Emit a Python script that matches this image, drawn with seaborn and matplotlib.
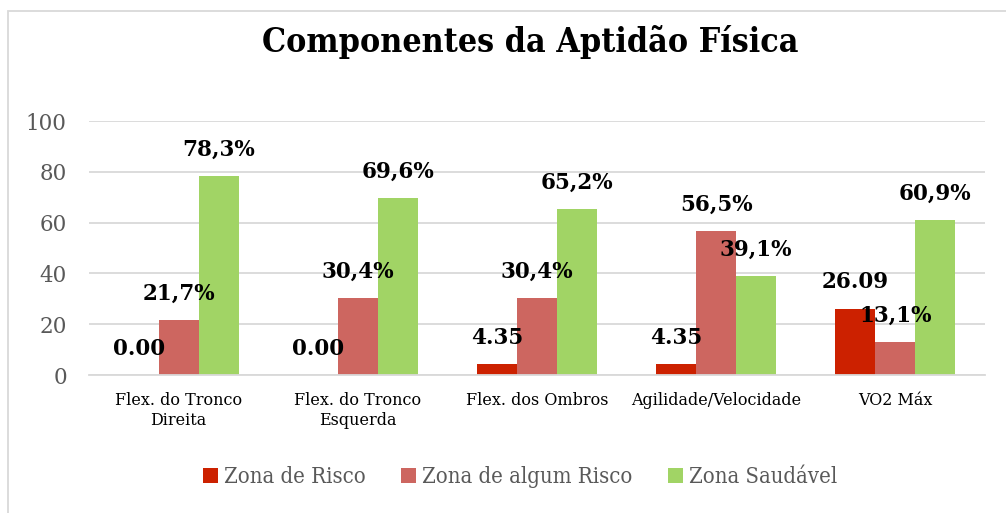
import matplotlib
matplotlib.use("Agg")
import matplotlib.pyplot as plt
import seaborn as sns
import pandas as pd
from matplotlib.patches import Rectangle

categories = ["Flex. do Tronco\nDireita", "Flex. do Tronco\nEsquerda", "Flex. dos Ombros",
              "Agilidade/Velocidade", "VO2 Máx"]
series_names = ["Zona de Risco", "Zona de algum Risco", "Zona Saudável"]
risco = [0.0, 0.0, 4.35, 4.35, 26.09]
algum_risco = [21.7, 30.4, 30.4, 56.5, 13.1]
saudavel = [78.3, 69.6, 65.2, 39.1, 60.9]
label_risco = ["0.00", "0.00", "4.35", "4.35", "26.09"]
label_algum = ["21,7%", "30,4%", "30,4%", "56,5%", "13,1%"]
label_saud = ["78,3%", "69,6%", "65,2%", "39,1%", "60,9%"]
yticks = [0, 20, 40, 60, 80, 100]

colors = ["#CC2100", "#CD6660", "#A1D465"]

rows = []
for name, vals in zip(series_names, [risco, algum_risco, saudavel]):
    for c, v in zip(categories, vals):
        rows.append({"cat": c, "serie": name, "val": v})
df = pd.DataFrame(rows)

sns.set_theme(style="white")
plt.rcParams['font.family'] = ['DejaVu Serif']
plt.rcParams['text.color'] = 'black'

fig = plt.figure(figsize=(10.06, 5.13), dpi=100)
ax = fig.add_axes([89/1006, (513-375)/513, (985-89)/1006, (375-121)/513])

sns.barplot(data=df, x="cat", y="val", hue="serie", order=categories, hue_order=series_names,
            palette=colors, width=0.67, ax=ax, legend=True, saturation=1, linewidth=0)

labels = [label_risco, label_algum, label_saud]
for cont, labs in zip(ax.containers, labels):
    for rect, lab in zip(cont, labs):
        x = rect.get_x() + rect.get_width() / 2
        y = rect.get_height()
        ax.annotate(lab, (x, y), xytext=(0, 19), textcoords="offset points",
                    ha="center", va="center", fontsize=15.5, fontweight="bold", color="black")

ax.set_xlim(-0.5, 4.5)
ax.set_ylim(0, 100)
ax.set_yticks(yticks)
ax.set_yticklabels([str(t) for t in yticks], fontsize=15.5, color="#595959")
ax.set_xticks(range(len(categories)))
ax.set_xticklabels(categories, fontsize=11.5, color="black", linespacing=1.25)
ax.tick_params(axis="both", length=0)
ax.tick_params(axis="y", pad=16)
ax.tick_params(axis="x", pad=12)
ax.set_xlabel("")
ax.set_ylabel("")
ax.yaxis.grid(True, color="#D9D9D9", linewidth=1.3)
ax.set_axisbelow(True)
for s in ["top", "right", "left"]:
    ax.spines[s].set_visible(False)
ax.spines["bottom"].set_color("#D9D9D9")
ax.spines["bottom"].set_linewidth(1.3)

handles, leg_labels = ax.get_legend_handles_labels()
ax.get_legend().remove()
fig.legend(handles, leg_labels, loc="center", bbox_to_anchor=(520/1006, 1 - 477/513), ncol=3,
           frameon=False, handlelength=0.7, handleheight=0.7, handletextpad=0.25,
           columnspacing=1.62, labelcolor="#595959", prop={"size": 15.8, "stretch": "condensed"})

fig.text(530/1006, 1 - 42/513, "Componentes da Aptidão Física", ha="center", va="center",
         fontsize=24.3, fontweight="bold", fontstretch="condensed", color="black")

fig.patches.append(Rectangle((8/1006, -0.1), 1.2, 1 - 11/513 + 0.1, transform=fig.transFigure,
                             fill=False, edgecolor="#D9D9D9", linewidth=1.3))

fig.savefig("out.png", dpi=100)
